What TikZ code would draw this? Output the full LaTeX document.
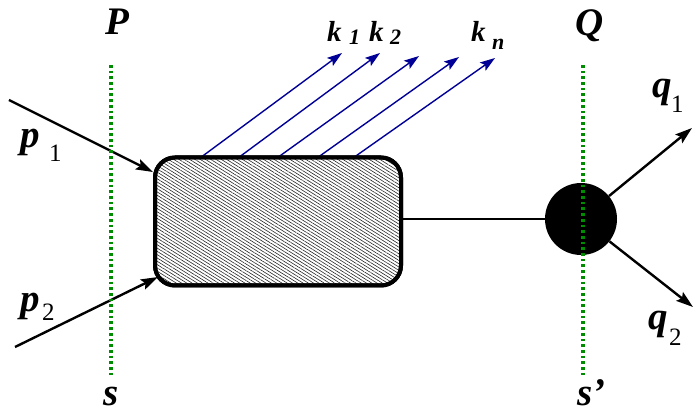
\documentclass[tikz,border=0pt]{standalone}
\usepackage{fontspec}
\setmainfont{LiberationSerif}[
  Extension=.ttf,
  UprightFont=*-Regular,
  BoldFont=*-Bold,
  ItalicFont=*-Italic,
  BoldItalicFont=*-BoldItalic]
\usetikzlibrary{arrows.meta,patterns.meta}
\definecolor{gline}{RGB}{0,140,0}
\definecolor{kblue}{RGB}{0,0,150}
\tikzset{
 biglab/.style={inner sep=0pt, font=\fontsize{39}{39}\selectfont\bfseries\itshape},
 klab/.style={inner sep=0pt, font=\fontsize{29}{29}\selectfont\bfseries\itshape},
 ksub/.style={inner sep=0pt, font=\fontsize{22}{22}\selectfont\bfseries\itshape},
 rsub/.style={inner sep=0pt, font=\fontsize{25}{25}\selectfont},
 gdot/.style={draw=gline, line width=4pt, dash pattern=on 2.7pt off 3pt},
 karrow/.style={draw=kblue, line width=1.4pt, -{Stealth[length=15pt,width=10pt,inset=3pt]}},
 barrow/.style={draw=black, line width=2.4pt, -{Stealth[length=17pt,width=11pt,inset=3pt]}},
 hatchbox/.style={draw=black, line width=4pt, rounded corners=20pt, inner sep=0pt,
   minimum width=246pt, minimum height=128pt,
   pattern={Lines[angle=-32,distance=2.8pt,line width=0.6pt]}, pattern color=black!85},
 blobnode/.style={circle, fill=black, minimum size=72pt, inner sep=0pt},
}
\begin{document}
\begin{tikzpicture}[x=1pt,y=-1pt]
\useasboundingbox (0,0) rectangle (694,414);

% main nodes
\node[hatchbox] (box) at (278,221.5) {};
\node[blobnode] (blob) at (581,219) {};

% connector box -> blob
\draw[line width=2.4pt] (box.east |- blob.west) -- (blob.west);

% incoming arrows
\coordinate (p1s) at (9,100);
\coordinate (p1e) at (153,172);
\coordinate (p2s) at (15,347);
\coordinate (p2e) at (158,277);
\draw[barrow] (p1s) -- (p1e);
\draw[barrow] (p2s) -- (p2e);

% outgoing arrows
\coordinate (q1e) at (692,128);
\coordinate (q2e) at (693,307);
\draw[barrow] (blob) -- (q1e);
\draw[barrow] (blob) -- (q2e);

% emitted blue arrows
\coordinate (k1s) at (200,158); \coordinate (k1e) at (342,53);
\coordinate (k2s) at (238,158); \coordinate (k2e) at (380,53);
\coordinate (k3s) at (277,158); \coordinate (k3e) at (419,56);
\coordinate (k4s) at (317,158); \coordinate (k4e) at (459,57);
\coordinate (k5s) at (353,158); \coordinate (k5e) at (495,58);
\foreach \i in {1,...,5} {\draw[karrow] (k\i s) -- (k\i e);}
% redraw box border over arrow starts
\node[draw=black, line width=4pt, rounded corners=20pt, inner sep=0pt,
   minimum width=246pt, minimum height=128pt] (boxrim) at (box.center) {};

% green cut lines
\coordinate (Pt) at (111,65); \coordinate (Pb) at (111,378);
\coordinate (Qt) at (583,65); \coordinate (Qb) at (583,378);
\draw[gdot] (Pt) -- (Pb);
\draw[gdot] (Qt) -- (Qb);

% labels
\node[biglab, anchor=base] (P) at (117,35) {P};
\node[biglab, anchor=base] (Q) at (590,36) {Q};
\node[biglab, anchor=base] (s) at (111,405) {s};
\node[biglab, anchor=base west] (s2) at (577,405) {s’};

\node[biglab, anchor=base west] (p1) at (20,148) {p};
\node[rsub, anchor=base west] (p1sub) at (49,162) {1};
\node[biglab, anchor=base west] (p2) at (20,312) {p};
\node[rsub, anchor=base west] (p2sub) at (42,321) {2};

\node[biglab, anchor=base west] (q1) at (652,98) {q};
\node[rsub, anchor=base west] (q1sub) at (671,113) {1};
\node[biglab, anchor=base west] (q2) at (648,330) {q};
\node[rsub, anchor=base west] (q2sub) at (669,345) {2};

\node[klab, anchor=base west] (k1) at (327,42) {k};
\node[ksub, anchor=base west] (k1sub) at (349,45) {1};
\node[klab, anchor=base west] (k2) at (369,42) {k};
\node[ksub, anchor=base west] (k2sub) at (390,45) {2};
\node[klab, anchor=base west] (kn) at (471,42) {k};
\node[ksub, anchor=base west] (knsub) at (492,50) {n};
\end{tikzpicture}
\end{document}
